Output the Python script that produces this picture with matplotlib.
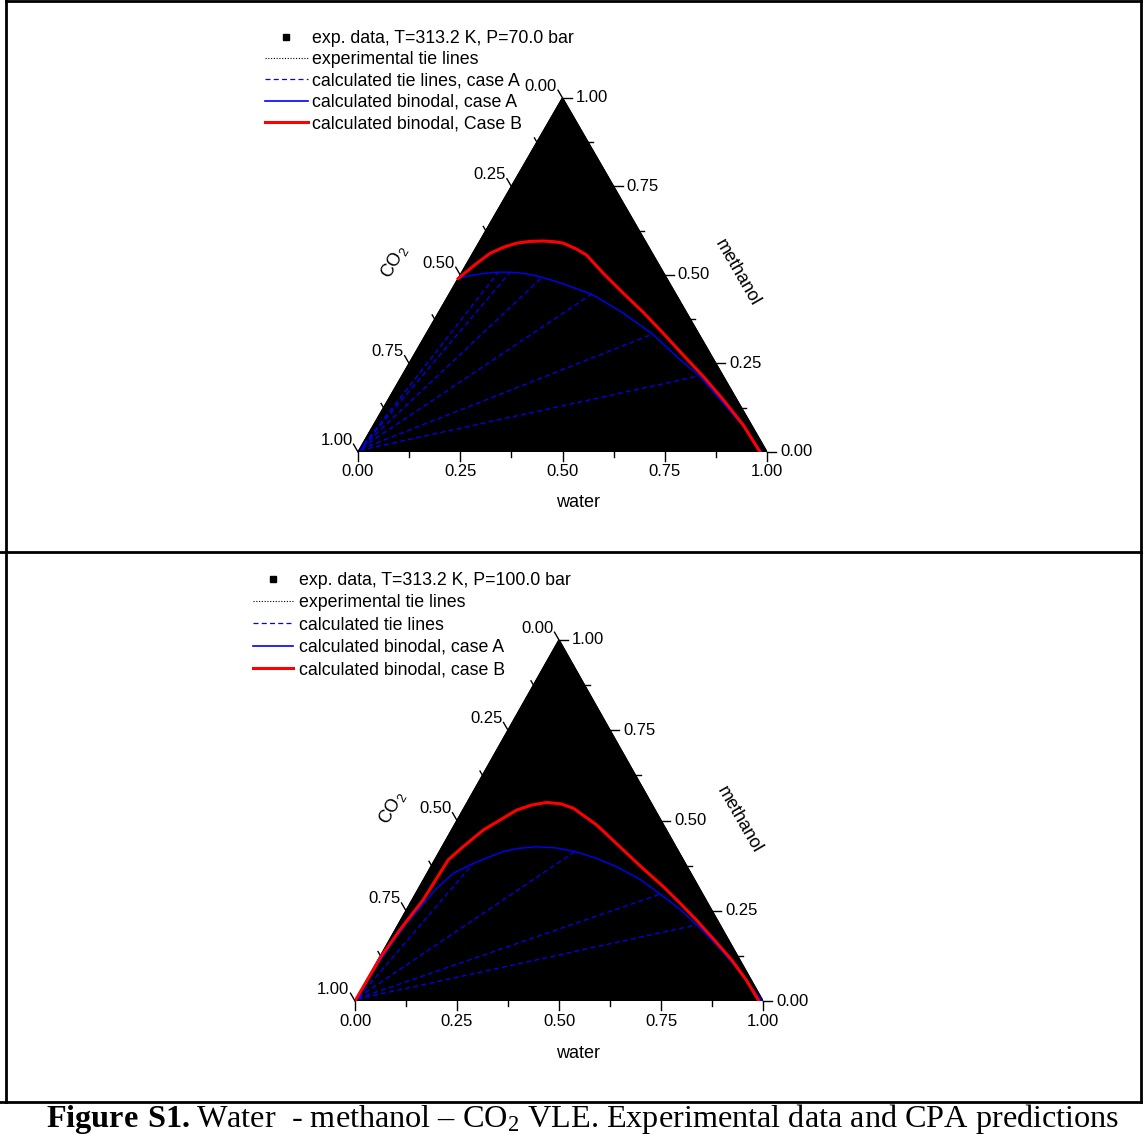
import numpy as np
import matplotlib
matplotlib.use("Agg")
import matplotlib.pyplot as plt
from matplotlib.lines import Line2D

plt.rcParams['font.family'] = ['Liberation Sans', 'DejaVu Sans']
plt.rcParams['mathtext.fontset'] = 'custom'
plt.rcParams['mathtext.rm'] = 'Liberation Serif'
plt.rcParams['mathtext.bf'] = 'Liberation Serif:bold'

W_PX, H_PX = 1143, 1135
S3 = np.sqrt(3) / 2

# compositions as (water, methanol) mole fractions, CO2 = 1 - water - methanol
# P = 70 bar
binA70_w = [0.000, 0.024, 0.047, 0.068, 0.089, 0.118, 0.140, 0.161, 0.182, 0.203, 0.232, 0.264,
            0.348, 0.442, 0.554, 0.645, 0.727, 0.824, 0.906, 0.987]
binA70_m = [0.490, 0.498, 0.503, 0.506, 0.508, 0.508, 0.506, 0.503, 0.499, 0.493, 0.485, 0.475,
            0.446, 0.398, 0.333, 0.269, 0.215, 0.138, 0.072, 0.000]
binB70_w = [0.000, 0.019, 0.042, 0.066, 0.093, 0.124, 0.155, 0.182, 0.207, 0.248, 0.281, 0.347,
            0.425, 0.501, 0.579, 0.658, 0.738, 0.820, 0.904, 0.983]
binB70_m = [0.490, 0.525, 0.561, 0.578, 0.590, 0.595, 0.596, 0.594, 0.590, 0.573, 0.556, 0.505,
            0.448, 0.394, 0.335, 0.274, 0.213, 0.147, 0.076, 0.000]
tie70_w1 = [0.004, 0.004, 0.004, 0.003, 0.003, 0.002]
tie70_m1 = [0.022, 0.020, 0.016, 0.012, 0.008, 0.005]
tie70_w2 = [0.089, 0.118, 0.203, 0.348, 0.554, 0.727]
tie70_m2 = [0.508, 0.508, 0.493, 0.446, 0.333, 0.215]

# P = 100 bar
binA100_w = [0.000, 0.006, 0.012, 0.019, 0.042, 0.064, 0.099, 0.156, 0.190, 0.232, 0.282, 0.332,
             0.395, 0.455, 0.530, 0.600, 0.668, 0.732, 0.809, 0.903, 0.997]
binA100_m = [0.003, 0.114, 0.169, 0.215, 0.307, 0.354, 0.381, 0.414, 0.423, 0.427, 0.424, 0.414,
             0.395, 0.372, 0.337, 0.296, 0.255, 0.211, 0.155, 0.081, 0.000]
binB100_w = [0.000, 0.002, 0.012, 0.027, 0.033, 0.050, 0.078, 0.132, 0.162, 0.195, 0.232, 0.268,
             0.348, 0.436, 0.515, 0.597, 0.660, 0.725, 0.800, 0.866, 0.930, 0.990]
binB100_m = [0.003, 0.123, 0.200, 0.280, 0.391, 0.425, 0.474, 0.529, 0.543, 0.550, 0.546, 0.534,
             0.488, 0.427, 0.372, 0.317, 0.272, 0.224, 0.166, 0.114, 0.058, 0.000]
tie100_w1 = [0.004, 0.003, 0.003, 0.002]
tie100_m1 = [0.012, 0.010, 0.007, 0.005]
tie100_w2 = [0.099, 0.332, 0.600, 0.732]
tie100_m2 = [0.381, 0.414, 0.296, 0.211]

tick_vals = np.arange(0, 1.0001, 0.125)

legend70 = ["exp. data, T=313.2 K, P=70.0 bar", "experimental tie lines",
            "calculated tie lines, case A", "calculated binodal, case A",
            "calculated binodal, Case B"]
legend100 = ["exp. data, T=313.2 K, P=100.0 bar", "experimental tie lines",
             "calculated tie lines", "calculated binodal, case A",
             "calculated binodal, case B"]

TIE_STYLE = dict(color='blue', lw=0.9, linestyle=(0, (4.0, 2.6)))


def to_xy(w, m):
    w = np.asarray(w)
    m = np.asarray(m)
    return w + m / 2, m * S3


def fpos(x, y):
    return x / W_PX, 1 - y / H_PX


def make_axes(fig, left, top, right, bottom):
    ax = fig.add_axes([left / W_PX, 1 - bottom / H_PX, (right - left) / W_PX, (bottom - top) / H_PX])
    ax.set_xlim(0, 1)
    ax.set_ylim(0, S3)
    ax.axis('off')
    ux = 1 / (right - left)
    uy = S3 / (bottom - top)
    return ax, ux, uy


def draw_panel(ax, ux, uy, binA, binB, ties, wlab, mlab, clab):
    tri_x, tri_y = to_xy([0, 1, 0, 0], [0, 0, 1, 0])
    ax.fill(tri_x, tri_y, color='black', zorder=1)
    ax.plot(tri_x, tri_y, color='black', lw=1.0, zorder=1)

    # ticks
    fs = 12
    for i, v in enumerate(tick_vals):
        L = 9 if i % 2 == 0 else 5
        # bottom (water)
        x, y = to_xy(v, 0)
        ax.plot([x, x], [y, y - L * uy], color='black', lw=1.0, clip_on=False)
        # right (methanol)
        x, y = to_xy(1 - v, v)
        ax.plot([x, x + L * ux], [y, y], color='black', lw=1.0, clip_on=False)
        # left (CO2)
        x, y = to_xy(0, 1 - v)
        ex, ey = x - 0.5 * L * ux, y + 0.866 * L * uy
        ax.plot([x, ex], [y, ey], color='black', lw=1.0, clip_on=False)
        if i % 2 == 0:
            lab = f"{v:.2f}"
            bx, by = to_xy(v, 0)
            ax.text(bx, by - 20 * uy, lab, ha='center', va='center', fontsize=fs, clip_on=False)
            rx, ry = to_xy(1 - v, v)
            ax.text(rx + 13 * ux, ry, lab, ha='left', va='center', fontsize=fs, clip_on=False)
            ax.text(ex - 1 * ux, ey + 4 * uy, lab, ha='right', va='center', fontsize=fs, clip_on=False)

    # tie lines
    for w1, m1, w2, m2 in zip(*ties):
        x, y = to_xy([w1, w2], [m1, m2])
        ax.plot(x, y, zorder=2, **TIE_STYLE)
    # binodals
    x, y = to_xy(*binA)
    ax.plot(x, y, color='blue', lw=1.0, zorder=3)
    x, y = to_xy(*binB)
    ax.plot(x, y, color='red', lw=2.2, zorder=4, solid_joinstyle='round')

    fig.text(*fpos(*wlab), "water", ha='center', va='center', fontsize=13)
    fig.text(*fpos(*mlab), "methanol", ha='center', va='center', fontsize=13, rotation=-60)
    fig.text(*fpos(*clab), r"CO$\mathregular{_2}$", ha='center', va='center', fontsize=13, rotation=60)


def legend_handles():
    return [Line2D([], [], color='black', marker='s', markersize=4.5, linestyle='none'),
            Line2D([], [], color='black', lw=0.8, linestyle=(0, (1, 1.5))),
            Line2D([], [], **TIE_STYLE),
            Line2D([], [], color='blue', lw=1.2),
            Line2D([], [], color='red', lw=2.2)]


fig = plt.figure(figsize=(W_PX / 100, H_PX / 100), dpi=100)

ax1, ux1, uy1 = make_axes(fig, 358, 98, 767, 452)
draw_panel(ax1, ux1, uy1, (binA70_w, binA70_m), (binB70_w, binB70_m),
           (tie70_w1, tie70_m1, tie70_w2, tie70_m2),
           (578, 503), (737, 273), (394, 262))

ax2, ux2, uy2 = make_axes(fig, 355, 640, 763, 1001)
draw_panel(ax2, ux2, uy2, (binA100_w, binA100_m), (binB100_w, binB100_m),
           (tie100_w1, tie100_m1, tie100_w2, tie100_m2),
           (578, 1054), (739, 820), (392, 808))

fig.legend(legend_handles(), legend70, loc='upper left', bbox_to_anchor=fpos(265, 30),
           frameon=False, fontsize=12.8, handlelength=2.4, handletextpad=0.22,
           labelspacing=0.24, borderpad=0, borderaxespad=0)
fig.legend(legend_handles(), legend100, loc='upper left', bbox_to_anchor=fpos(253, 572),
           frameon=False, fontsize=12.8, handlelength=2.25, handletextpad=0.33,
           labelspacing=0.3, borderpad=0, borderaxespad=0)

# table frame
frame = [((6, 1), (1141, 1)), ((6, 1), (6, 1102)), ((1141, 1), (1141, 1102)),
         ((0, 552), (1143, 552)), ((0, 1102), (1143, 1102))]
for (xa, ya), (xb, yb) in frame:
    xa, ya = fpos(xa, ya)
    xb, yb = fpos(xb, yb)
    fig.add_artist(Line2D([xa, xb], [ya, yb], transform=fig.transFigure, color='black', lw=2.0))

fig.text(*fpos(583, 1119),
         r"$\mathbf{Figure\ S1.}$Water  - methanol – CO$\mathregular{_2}$ VLE. Experimental data and CPA predictions",
         ha='center', va='center', fontsize=23.2, family='Liberation Serif')

fig.savefig("out.png", dpi=100)
